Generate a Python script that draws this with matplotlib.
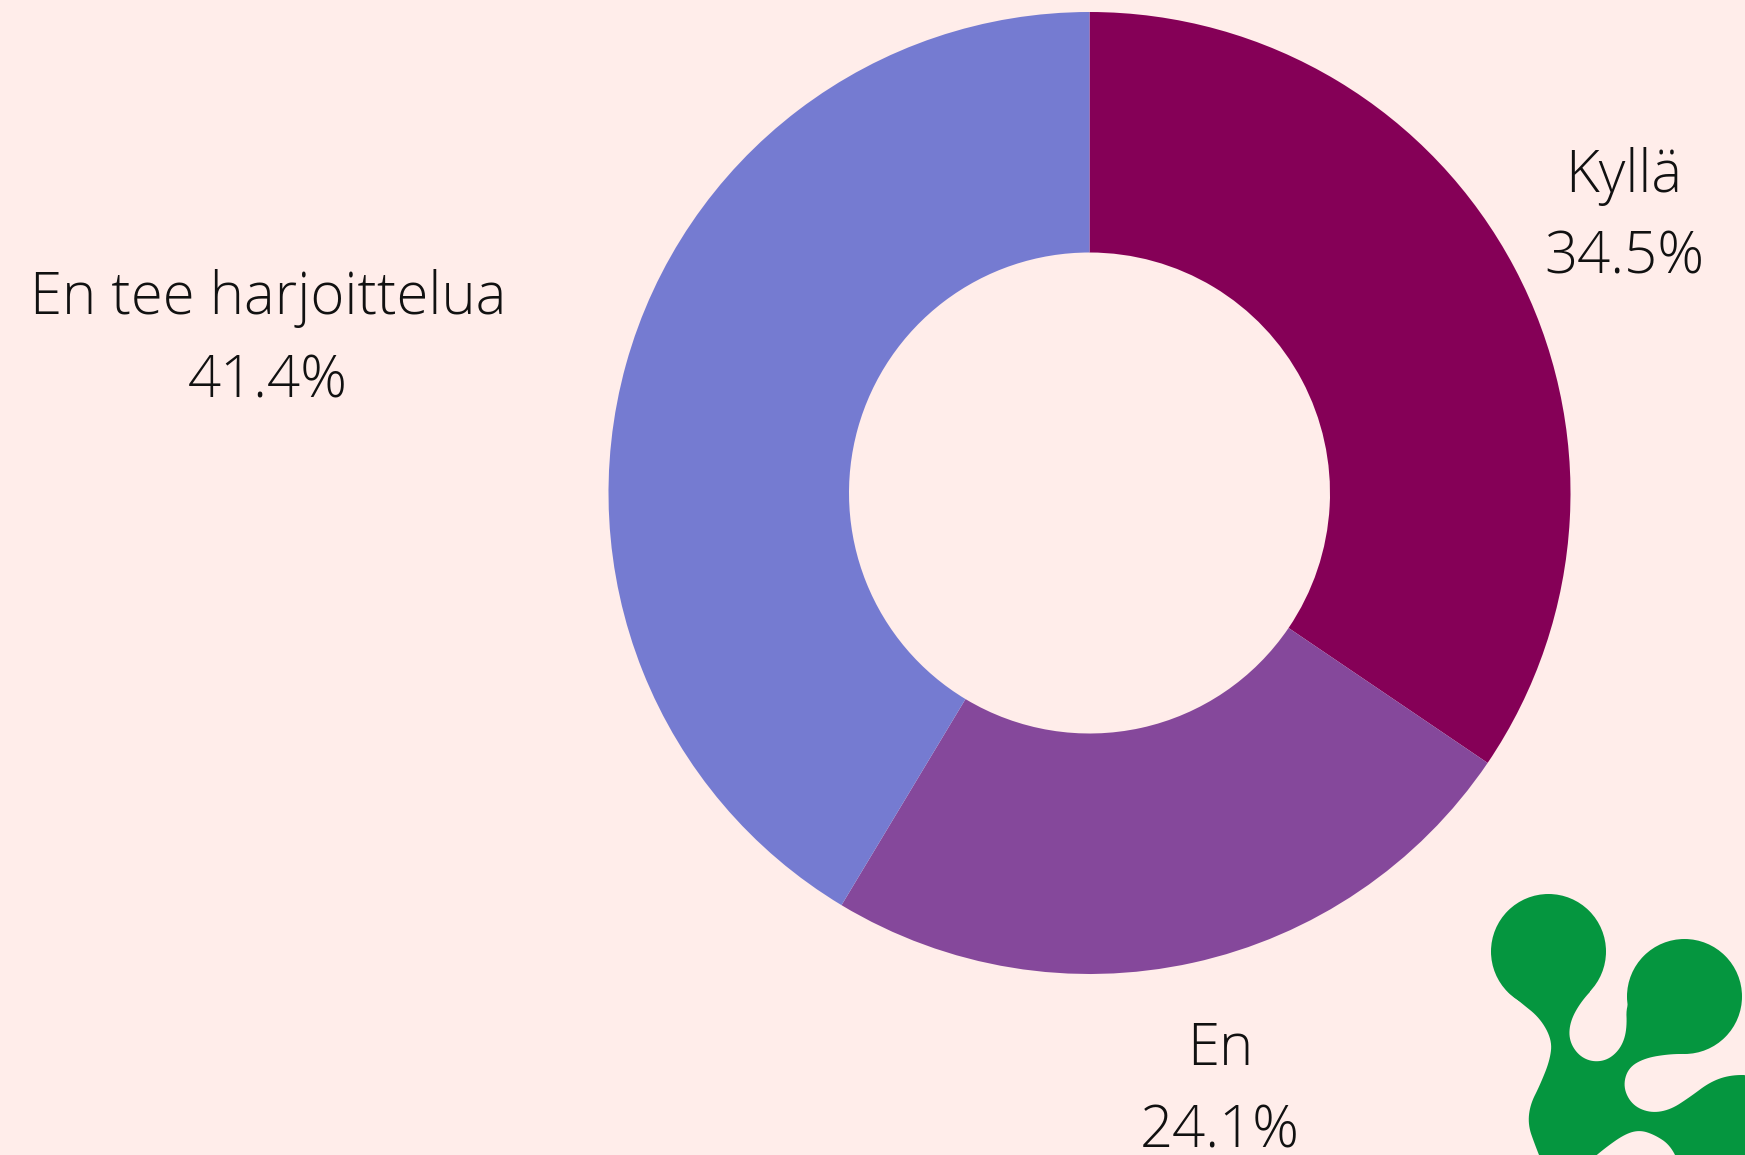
import matplotlib
matplotlib.use("Agg")
import matplotlib.pyplot as plt
from matplotlib.patches import Circle, Polygon

# vastaukset (n = 29)
labels = ["Kyllä", "En", "En tee harjoittelua"]
counts = [10, 7, 12]
colors = ["#850057", "#85489b", "#757bd1"]

bg = "#ffedea"
green = "#05963f"

W, H = 1745, 1155
fig = plt.figure(figsize=(W / 100, H / 100), dpi=100, facecolor=bg)
ax = fig.add_axes([0, 0, 1, 1])
ax.set_facecolor(bg)

# donitsi
cx, cy, r = 1089.5, H - 493, 481
ax.pie(counts, colors=colors, startangle=90, counterclock=False,
       center=(cx, cy), radius=r,
       wedgeprops=dict(width=r * 0.5, linewidth=0))
ax.set_xlim(0, W)
ax.set_ylim(0, H)
ax.set_aspect("equal")
ax.axis("off")

# tekstit: (x, nimen baseline, prosentin baseline) kuvapikseleinä
label_pos = [(1624, 192, 274), (1220, 1065, 1147), (268, 314, 397)]
total = sum(counts)
font = dict(family=["Open Sans", "DejaVu Sans"], fontweight="light",
            fontsize=41.8, color="#111111", ha="center", va="baseline")
for name, n, (x, y1, y2) in zip(labels, counts, label_pos):
    ax.text(x, H - y1, name, **font)
    ax.text(x, H - y2, f"{100 * n / total:.1f}%", **font)


def chaikin(pts, rounds=3):
    # pyöristää logon ääriviivan kulmat
    for _ in range(rounds):
        new = []
        for i in range(len(pts)):
            (x0, y0), (x1, y1) = pts[i], pts[(i + 1) % len(pts)]
            new.append((0.75 * x0 + 0.25 * x1, 0.75 * y0 + 0.25 * y1))
            new.append((0.25 * x0 + 0.75 * x1, 0.25 * y0 + 0.75 * y1))
        pts = new
    return pts


# vihreä logo oikeassa alakulmassa
body = [(1500, 985), (1520, 1002), (1540, 1018), (1552, 1040), (1550, 1060),
        (1540, 1085), (1530, 1105), (1528, 1125), (1535, 1145), (1545, 1170),
        (1585, 1165), (1605, 1148), (1625, 1134), (1640, 1130), (1655, 1135),
        (1670, 1145), (1680, 1165), (1760, 1170), (1755, 1075), (1730, 1075),
        (1710, 1082), (1690, 1097), (1670, 1110), (1650, 1113), (1632, 1105),
        (1623, 1087), (1628, 1068), (1645, 1058), (1670, 1054), (1690, 1054),
        (1684, 997), (1640, 990), (1626, 1003), (1627, 1030), (1621, 1048),
        (1608, 1060), (1592, 1062), (1578, 1055), (1569, 1040), (1570, 1022),
        (1580, 1003), (1597, 984), (1548, 952)]
ax.add_patch(Polygon([(x, H - y) for x, y in chaikin(body)], closed=True,
                     facecolor=green, edgecolor="none", zorder=3))
for (x, y, rr) in [(1548.5, 951.5, 57.5), (1684.5, 996.5, 57.5), (1762, 1133, 60)]:
    ax.add_patch(Circle((x, H - y), rr, facecolor=green, edgecolor="none", zorder=3))

fig.savefig("out.png", dpi=100, facecolor=bg)
